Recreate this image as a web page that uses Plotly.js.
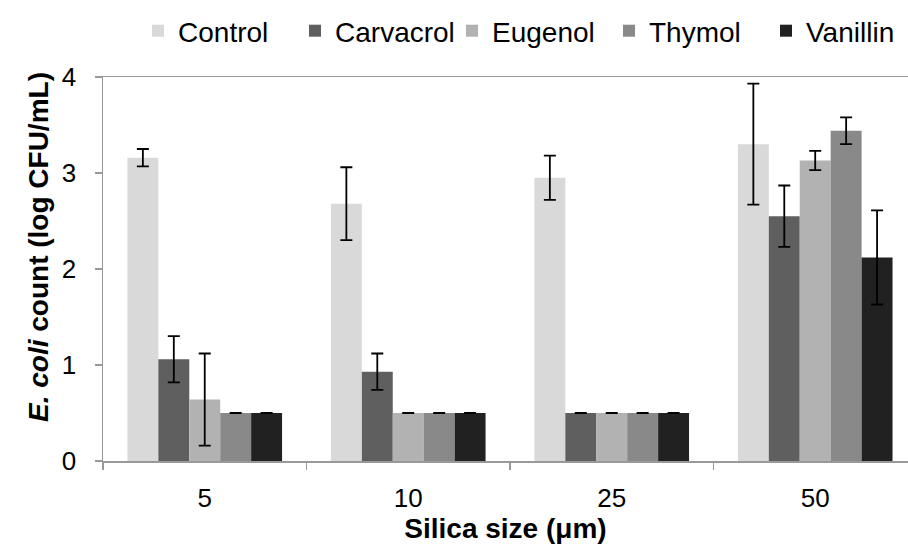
<!DOCTYPE html>
<html>
<head>
<meta charset="utf-8">
<script src="https://cdn.plot.ly/plotly-3.0.1.min.js"></script>
<style>html,body{margin:0;padding:0;background:#fff;}#chart{width:908px;height:544px;}</style>
</head>
<body>
<div id="chart"></div>
<script>
var categories = ["5", "10", "25", "50"];
var seriesNames = ["Control", "Carvacrol", "Eugenol", "Thymol", "Vanillin"];
var control   = [3.16, 2.68, 2.95, 3.30];
var carvacrol = [1.06, 0.93, 0.50, 2.55];
var eugenol   = [0.64, 0.50, 0.50, 3.13];
var thymol    = [0.50, 0.50, 0.50, 3.44];
var vanillin  = [0.50, 0.50, 0.50, 2.12];
var controlErr   = [0.09, 0.38, 0.23, 0.63];
var carvacrolErr = [0.24, 0.19, 0.00, 0.32];
var eugenolErr   = [0.48, 0.00, 0.00, 0.10];
var thymolErr    = [0.00, 0.00, 0.00, 0.14];
var vanillinErr  = [0.00, 0.00, 0.00, 0.49];
var colors = ["#d9d9d9", "#5f5f5f", "#b2b2b2", "#898989", "#212121"];
var xTitle = "Silica size (μm)";
var yTitle = "<i>E. coli</i> count (log CFU/mL)";

var values = [control, carvacrol, eugenol, thymol, vanillin];
var errs = [controlErr, carvacrolErr, eugenolErr, thymolErr, vanillinErr];

var traces = seriesNames.map(function(name, i) {
  return {
    type: "bar",
    name: name,
    x: categories,
    y: values[i],
    marker: {color: colors[i], line: {width: 0}},
    error_y: {type: "data", array: errs[i], visible: true, color: "#000", thickness: 1.8, width: 6}
  };
});

var layout = {
  width: 908, height: 544,
  margin: {l: 103, r: 0, t: 77, b: 83},
  paper_bgcolor: "#fff", plot_bgcolor: "#fff",
  font: {family: "Liberation Sans, Arial, sans-serif", color: "#000", size: 26},
  barmode: "group",
  bargap: 0.24,
  bargroupgap: 0,
  showlegend: true,
  legend: {
    orientation: "h", xref: "container", yref: "container",
    x: 0.152, xanchor: "left", y: 1 - 31/544, yanchor: "middle",
    font: {size: 28}, traceorder: "normal",
    entrywidth: 112, entrywidthmode: "pixels"
  },
  xaxis: {
    type: "category",
    range: [-0.5, 3.456],
    showline: true, linecolor: "#999", linewidth: 1.5, mirror: true,
    ticks: "outside", tickson: "boundaries", ticklen: 7, tickcolor: "#999", tickwidth: 1.5,
    ticklabelstandoff: 13,
    showgrid: false, zeroline: false,
    title: {text: xTitle, font: {size: 28, weight: "bold"}, standoff: 2}
  },
  yaxis: {
    range: [0, 4],
    dtick: 1,
    showline: true, linecolor: "#999", linewidth: 1.5,
    ticks: "outside", ticklen: 7, tickcolor: "#999", tickwidth: 1.5,
    ticklabelstandoff: 13,
    showgrid: false, zeroline: false
  },
  annotations: [{
    text: yTitle, textangle: -90, showarrow: false,
    xref: "paper", yref: "paper",
    x: (38 - 103) / 805, y: (461 - 247) / 384,
    xanchor: "center", yanchor: "middle",
    font: {size: 28, weight: "bold", color: "#000"}
  }]
};

Plotly.newPlot("chart", traces, layout, {staticPlot: true, displayModeBar: false});
</script>
</body>
</html>
